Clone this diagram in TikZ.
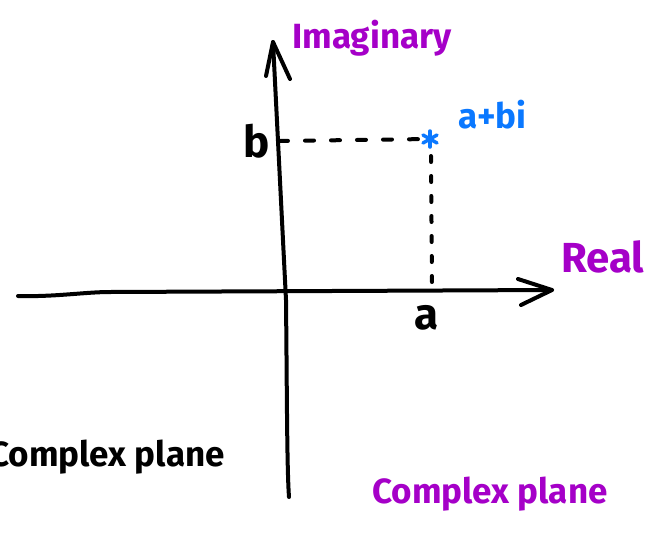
\documentclass[tikz,border=0pt]{standalone}
\usepackage{fontspec}
\setmainfont{Fira Sans}
\definecolor{hpurple}{RGB}{165,0,200}
\definecolor{hblue}{RGB}{10,120,255}
\begin{document}
\begin{tikzpicture}[x=1pt,y=-1pt,
  axis/.style={line width=4pt, line cap=round, line join=round, black},
  guide/.style={line width=4pt, line cap=round, dash pattern=on 9pt off 17pt},
  vguide/.style={line width=4pt, line cap=round, dash pattern=on 6pt off 14pt},
  starline/.style={line width=3.5pt, line cap=round, hblue},
  lbl/.style={font=\fontsize{35}{35}\selectfont\bfseries, inner sep=0pt, anchor=base west},
  ]
\useasboundingbox[fill=white] (0,0) rectangle (653,533);
% axis points
\coordinate (xl) at (18,296);
\coordinate (xm) at (110,292);
\coordinate (xr) at (552,290);
\coordinate (xa1) at (518,279);
\coordinate (xa2) at (521,305);
\coordinate (yb) at (289,497);
\coordinate (ym) at (286,300);
\coordinate (yt) at (273,42);
\coordinate (ya1) at (266,76);
\coordinate (ya2) at (290,79);
% point
\coordinate (z) at (430,139);
\coordinate (bh) at (279,141);
\coordinate (zv) at (431,156);
\coordinate (ah) at (432,288);
% axes
\draw[axis] (xl) .. controls (55,297) and (85,292) .. (xm) -- (xr);
\draw[axis] (xa1) -- (xr) -- (xa2);
\draw[axis] (yb) .. controls (287,470) and (287,400) .. (ym) -- (yt);
\draw[axis] (ya1) -- (yt) -- (ya2);
% guides
\draw[guide] (bh) -- (z);
\draw[vguide] (zv) -- (ah);
% star
\draw[starline] ([shift={(0,-8)}]z) -- ([shift={(0,8)}]z);
\draw[starline] ([shift={(-7,-4)}]z) -- ([shift={(7,4)}]z);
\draw[starline] ([shift={(-7,4)}]z) -- ([shift={(7,-4)}]z);
% labels
\node[lbl, text=hpurple] (im) at (292,48) {Imaginary};
\node[lbl, text=hblue] (zl) at (458,128) {a+bi};
\node[lbl, font=\fontsize{44}{44}\selectfont\bfseries] (bl) at (243,157) {b};
\node[lbl, font=\fontsize{44}{44}\selectfont\bfseries] (al) at (414,329) {a};
\node[lbl, text=hpurple, font=\fontsize{42}{42}\selectfont\bfseries] (re) at (561,272) {Real};
\node[lbl, anchor=base east] (cp1) at (225,466) {Complex plane};
\node[lbl, text=hpurple] (cp2) at (372,503) {Complex plane};
\end{tikzpicture}
\end{document}
